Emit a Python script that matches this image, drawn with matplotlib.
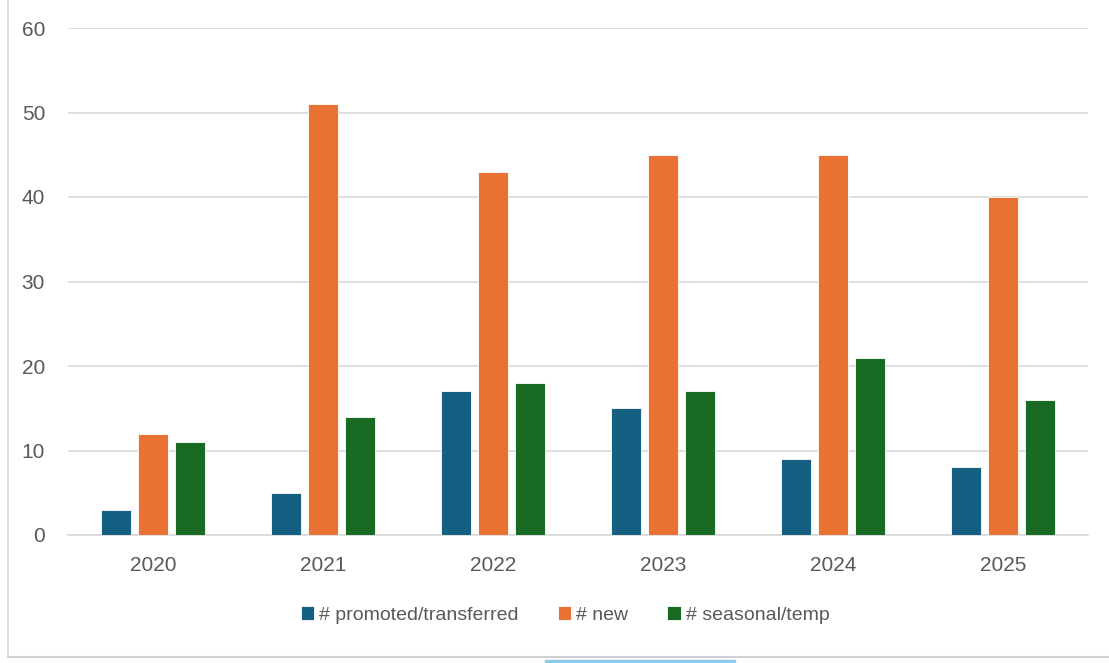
import matplotlib.pyplot as plt
import numpy as np
from matplotlib.lines import Line2D
from matplotlib.patches import Rectangle

years = ['2020', '2021', '2022', '2023', '2024', '2025']
promoted = [3, 5, 17, 15, 9, 8]
new = [12, 51, 43, 45, 45, 40]
seasonal = [11, 14, 18, 17, 21, 16]

series = [
    ('# promoted/transferred', promoted, '#156082'),
    ('# new', new, '#E97132'),
    ('# seasonal/temp', seasonal, '#196B24'),
]

plt.rcParams['font.family'] = ['Liberation Sans', 'DejaVu Sans']

W, H = 1109, 663
fig = plt.figure(figsize=(W / 100, H / 100), dpi=100)
ax = fig.add_axes([68 / W, 128 / H, (1088 - 68) / W, (535 - 28) / H])

x = np.arange(len(years))
width = 0.172
gap = 0.046
for i, (label, vals, color) in enumerate(series):
    ax.bar(x + (i - 1) * (width + gap), vals, width, color=color,
           edgecolor='white', linewidth=0.6, label=label, zorder=3)

ax.set_xlim(-0.5, len(years) - 0.5)
ax.set_ylim(0, 60)
ax.set_yticks(range(0, 61, 10))
ax.set_xticks(x)
ax.set_xticklabels(years)
ax.grid(axis='y', color='#d9d9d9', linewidth=1.2, zorder=0)
for s in ['top', 'right', 'left']:
    ax.spines[s].set_visible(False)
ax.spines['bottom'].set_color('#d9d9d9')
ax.spines['bottom'].set_linewidth(1.2)
ax.tick_params(axis='both', length=0, colors='#595959', labelsize=15)
ax.tick_params(axis='y', pad=16.5)
ax.tick_params(axis='x', pad=15)

ax.legend(loc='center', bbox_to_anchor=(565 / W, 48 / H),
          bbox_transform=fig.transFigure, ncol=3, frameon=False,
          fontsize=14, labelcolor='#595959', handlelength=0.7,
          handleheight=0.7, handletextpad=0.25, columnspacing=2.0)

# screenshot border remnants
fig.add_artist(Line2D([8 / W, 8 / W], [6 / H, 1], color='#d9d9d9', lw=1.2))
fig.add_artist(Line2D([8 / W, 1], [6 / H, 6 / H], color='#d0d0d0', lw=1.5))
fig.add_artist(Rectangle((545 / W, 0), 190 / W, 3 / H, color='#8fcbe8'))

fig.savefig('out.png', dpi=100)
